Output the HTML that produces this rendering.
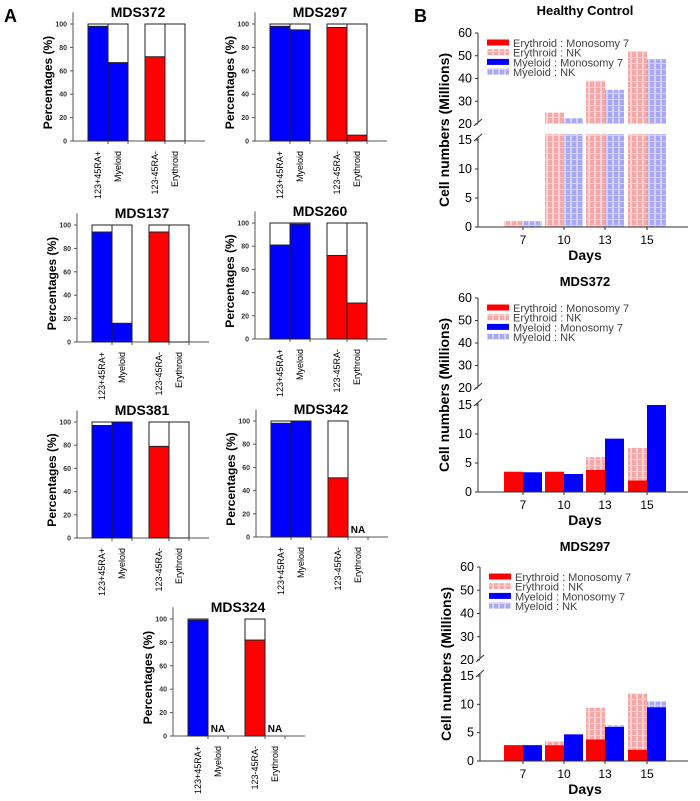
<!DOCTYPE html>
<html><head><meta charset="utf-8"><style>
body{margin:0;background:#fff}
svg{font-family:"Liberation Sans",Arial,sans-serif}
</style></head><body>
<svg id="fig" width="700" height="796" viewBox="0 0 700 796">
<defs>
<pattern id="pinkPat" width="6" height="6" patternUnits="userSpaceOnUse"><rect width="6" height="6" fill="#f6a7a7"/><rect x="0" y="0" width="2" height="6" fill="#fbd0d0"/><rect x="0" y="3" width="6" height="1" fill="#fbd0d0"/></pattern>
<pattern id="bluePat" width="6" height="6" patternUnits="userSpaceOnUse"><rect width="6" height="6" fill="#a8a8f4"/><rect x="0" y="0" width="2" height="6" fill="#d0d0fb"/><rect x="0" y="3" width="6" height="1" fill="#d0d0fb"/></pattern>
</defs>
<text x="4" y="22" font-size="18" font-weight="bold">A</text>
<text x="414" y="22" font-size="18" font-weight="bold">B</text>
</svg>
<script>
// Panel A data (percentages)
const pctTitles = ["MDS372","MDS297","MDS137","MDS260","MDS381","MDS342","MDS324"];
const pctCategories = ["123+45RA+","Myeloid","123-45RA-","Erythroid"];
const pctMDS372 = [98, 67, 72, 0];
const pctMDS297 = [98, 95, 97, 5];
const pctMDS137 = [94, 16, 94, 0];
const pctMDS260 = [81, 99, 72, 31];
const pctMDS381 = [97, 100, 79, 0];
const pctMDS342 = [98, 100, 51, null];
const pctMDS324 = [99, null, 82, null];
const pctTicks = [0, 20, 40, 60, 80, 100];

// Panel B data (cell numbers, millions)
const days = ["7","10","13","15"];
const hcEryMono = [0, 0, 0, 0];
const hcEryNK = [1, 25, 39, 52];
const hcMyeMono = [0, 0, 0, 0];
const hcMyeNK = [1, 22.5, 35, 48.5];
const m372EryMono = [3.5, 3.5, 3.8, 2];
const m372EryNK = [0, 0, 2.2, 5.6];
const m372MyeMono = [3.4, 3.1, 9.2, 15];
const m372MyeNK = [0, 0, 0, 0];
const m297EryMono = [2.8, 2.8, 3.8, 2];
const m297EryNK = [0, 0.7, 5.6, 9.9];
const m297MyeMono = [2.8, 4.7, 6, 9.5];
const m297MyeNK = [0, 0, 0.3, 1.0];
const lowTicks = [0, 5, 10, 15];
const highTicks = [20, 30, 40, 50, 60];
const legendLabels = ["Erythroid : Monosomy 7","Erythroid : NK","Myeloid : Monosomy 7","Myeloid : NK"];

const svg = document.getElementById('fig');
const NS = 'http://www.w3.org/2000/svg';
function mk(tag, attrs, parent){
  const e = document.createElementNS(NS, tag);
  for (const k in attrs) e.setAttribute(k, attrs[k]);
  (parent||svg).appendChild(e);
  return e;
}

function pctPanel(title, vals, ax, y0, y100, colors){
  const g = mk('g', {});
  
  
  const y = v => y0 - (y0 - y100) * v / 100;
  const t = mk('text', {x: ax + 65, y: y100 - 7, 'font-size': 14, 'font-weight': 'bold', 'text-anchor': 'middle'}, g);
  t.textContent = title;
  
  
  const yl = mk('text', {x: 0, y: 0, 'font-size': 12, 'font-weight': 'bold', 'text-anchor': 'middle', transform: `translate(${ax - 21},${(y0 + y100) / 2}) rotate(-90)`}, g);
  yl.textContent = 'Percentages (%)';
  
  
  mk('line', {x1: ax, y1: y(110), x2: ax, y2: y0, stroke: '#555', 'stroke-width': 1}, g);
  mk('line', {x1: ax, y1: y0, x2: ax + 132, y2: y0, stroke: '#555', 'stroke-width': 1}, g);
  pctTicks.forEach(v => {
    mk('line', {x1: ax - 3, y1: y(v), x2: ax, y2: y(v), stroke: '#555'}, g);
    const tl = mk('text', {x: ax - 6, y: y(v) + 2.5, 'font-size': 7, 'font-weight': 'bold', 'text-anchor': 'end', fill: '#333'}, g);
    tl.textContent = v;
    
    
  });
  const offs = [15, 35, 72, 92];
  vals.forEach((v, i) => {
    const bx = ax + offs[i];
    if (v === null) {
      const na = mk('text', {x: bx + 10, y: y0 - 4, 'font-size': 10, 'font-weight': 'bold', 'text-anchor': 'middle'}, g);
      na.textContent = 'NA';
      
      
    } else {
      const w = mk('rect', {x: bx, y: y(100), width: 20, height: y0 - y(100), fill: '#fff', stroke: '#222', 'stroke-width': 1}, g);
      
      
      const b = mk('rect', {x: bx, y: y(v), width: 20, height: y0 - y(v), fill: colors[i], stroke: '#222', 'stroke-width': 1}, g);
      
      
    }
    mk('line', {x1: bx + 20, y1: y0, x2: bx + 20, y2: y0 + 3, stroke: '#555'}, g);
    const cl = mk('text', {x: 0, y: 0, 'font-size': 9, 'text-anchor': 'end', transform: `translate(${bx + 13},${y0 + 10}) rotate(-90)`}, g);
    cl.textContent = pctCategories[i];
    
    
  });
}
const C = ['#0000ff','#0000ff','#ff0000','#ff0000'];
pctPanel(pctTitles[0], pctMDS372, 73, 141, 24, C);
pctPanel(pctTitles[1], pctMDS297, 255, 141, 24, C);
pctPanel(pctTitles[2], pctMDS137, 77, 342, 225, C);
pctPanel(pctTitles[3], pctMDS260, 255, 339, 223, C);
pctPanel(pctTitles[4], pctMDS381, 77, 538, 422, C);
pctPanel(pctTitles[5], pctMDS342, 256, 537, 421, C);
pctPanel(pctTitles[6], pctMDS324, 173, 736, 619, C);

function cellPanel(title, eM, eN, mM, mN, ax, y0, y15, y20, y60, titleY){
  const g = mk('g', {});
  
  
  const yLow = v => y0 - (y0 - y15) * v / 15;
  const yHigh = v => y20 - (y20 - y60) * (v - 20) / 40;
  const cap = 16;
  const t = mk('text', {x: 585, y: titleY, 'font-size': 13, 'font-weight': 'bold', 'text-anchor': 'middle'}, g);
  t.textContent = title;
  
  
  const yl = mk('text', {x: 0, y: 0, 'font-size': 14, 'font-weight': 'bold', 'text-anchor': 'middle', transform: `translate(${ax - 29},${(y0 + y60) / 2}) rotate(-90)`}, g);
  yl.textContent = 'Cell numbers (Millions)';
  
  
  const xs = [504, 545, 586, 628];
  function seg(x, from, to, fill, name){
    const parts = [];
    const lf = Math.min(from, cap), lt = Math.min(to, cap);
    if (lt > lf) parts.push([yLow(lt), yLow(lf)]);
    const hf = Math.max(from, 20), ht = Math.max(to, 20);
    if (ht > hf) parts.push([yHigh(ht), yHigh(hf)]);
    parts.forEach(p => {
      const r = mk('rect', {x: x, y: p[0], width: 19, height: p[1] - p[0], fill: fill}, g);
      
      
    });
  }
  days.forEach((d, i) => {
    seg(xs[i], 0, eM[i], '#ff0000', 'bar-erythroid-monosomy7');
    seg(xs[i], eM[i], eM[i] + eN[i], 'url(#pinkPat)', 'bar-erythroid-nk');
    seg(xs[i] + 19, 0, mM[i], '#0000ff', 'bar-myeloid-monosomy7');
    seg(xs[i] + 19, mM[i], mM[i] + mN[i], 'url(#bluePat)', 'bar-myeloid-nk');
    const xl = mk('text', {x: xs[i] + 19, y: y0 + 17, 'font-size': 12, 'text-anchor': 'middle'}, g);
    xl.textContent = d;
    
    
    mk('line', {x1: xs[i] + 19, y1: y0, x2: xs[i] + 19, y2: y0 + 3, stroke: '#333'}, g);
  });
  mk('line', {x1: ax, y1: y60, x2: ax, y2: y20 - 2, stroke: '#333'}, g);
  mk('line', {x1: ax, y1: y15 - 3, x2: ax, y2: y0, stroke: '#333'}, g);
  mk('line', {x1: ax - 4, y1: y20 + 2, x2: ax + 4, y2: y20 - 5, stroke: '#333'}, g);
  mk('line', {x1: ax - 4, y1: y15 + 1, x2: ax + 4, y2: y15 - 6, stroke: '#333'}, g);
  mk('line', {x1: ax, y1: y0, x2: 688, y2: y0, stroke: '#333'}, g);
  lowTicks.forEach(v => {
    mk('line', {x1: ax - 3, y1: yLow(v), x2: ax, y2: yLow(v), stroke: '#333'}, g);
    const tl = mk('text', {x: ax - 6, y: yLow(v) + 4, 'font-size': 12.5, 'text-anchor': 'end'}, g);
    tl.textContent = v;
    
    
  });
  highTicks.forEach(v => {
    mk('line', {x1: ax - 3, y1: yHigh(v), x2: ax, y2: yHigh(v), stroke: '#333'}, g);
    const tl = mk('text', {x: ax - 6, y: yHigh(v) + 4, 'font-size': 12.5, 'text-anchor': 'end'}, g);
    tl.textContent = v;
    
    
  });
  const xt = mk('text', {x: 585, y: y0 + 33, 'font-size': 14, 'font-weight': 'bold', 'text-anchor': 'middle'}, g);
  xt.textContent = 'Days';
  
  
  const fills = ['#ff0000', 'url(#pinkPat)', '#0000ff', 'url(#bluePat)'];
  legendLabels.forEach((l, i) => {
    const ly = y60 + 10 + i * 9.7;
    const sw = mk('rect', {x: ax + 9, y: ly - 3.5, width: 22, height: 6, fill: fills[i]}, g);
    
    
    const lt = mk('text', {x: ax + 35, y: ly + 4, 'font-size': 11, fill: '#444'}, g);
    lt.textContent = l;
    
    
  });
}
cellPanel('Healthy Control', hcEryMono, hcEryNK, hcMyeMono, hcMyeNK, 478, 227, 140, 124, 33, 15);
cellPanel('MDS372', m372EryMono, m372EryNK, m372MyeMono, m372MyeNK, 478, 492, 405, 388, 298, 286);
cellPanel('MDS297', m297EryMono, m297EryNK, m297MyeMono, m297MyeNK, 480, 761, 676, 660, 567, 551);
</script>
</body></html>
